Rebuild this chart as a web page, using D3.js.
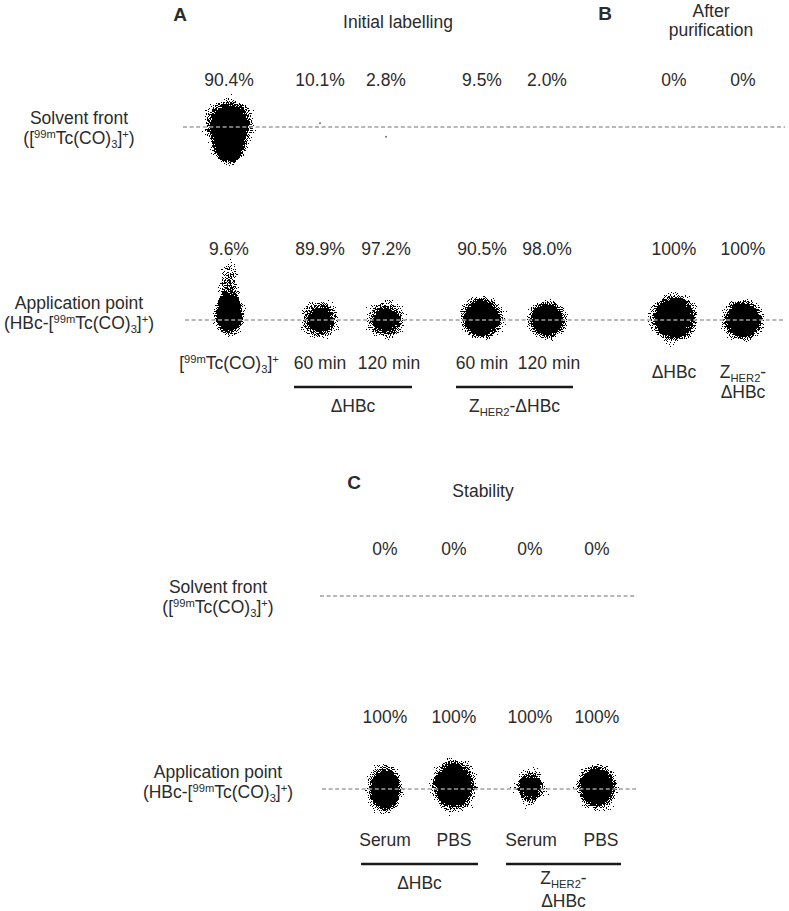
<!DOCTYPE html>
<html>
<head>
<meta charset="utf-8">
<script src="https://cdnjs.cloudflare.com/ajax/libs/d3/7.8.5/d3.min.js"></script>
<style>
  body { margin: 0; background: #fff; }
  svg text { font-family: "Liberation Sans", Arial, sans-serif; fill: #2b2b2b; }
</style>
</head>
<body>
<svg id="chart" width="789" height="911"></svg>
<script>

// ---- datos panel A/B (marcaje inicial y tras purificacion) ----
var lanesA = ["[^{99m}Tc(CO)_{3}]^{+}", "60 min", "120 min", "60 min", "120 min", "ΔHBc", "Z_{HER2}-|ΔHBc"];
var laneOffsetA = [0, 0.91, 1.57, 2.53, 3.18, 4.45, 5.14];   // posicion de carril en la placa
var frontPctA = ["90.4%", "10.1%", "2.8%", "9.5%", "2.0%", "0%", "0%"];
var originPctA = ["9.6%", "89.9%", "97.2%", "90.5%", "98.0%", "100%", "100%"];
var groupsA = [
    { label: "ΔHBc", first: 1, last: 2 },
    { label: "Z_{HER2}-ΔHBc", first: 3, last: 4 }
];
// manchas: carril, Rf del centro, semiancho (placa), semialto (Rf), tipo
var spotsA = [
    { lane: 0, rf: 1.01, hw: 0.30, hh: 0.165, kind: "dense" },
    { lane: 0, rf: 0.89, hw: 0.20, hh: 0.105, kind: "dense" },
    { lane: 0, rf: 0.03, hw: 0.19, hh: 0.14, kind: "dense" },
    { lane: 0, rf: 0.18, hw: 0.13, hh: 0.16, kind: "sparse" },
    { lane: 1, rf: 0.00, hw: 0.25, hh: 0.13, kind: "soft" },
    { lane: 2, rf: 0.00, hw: 0.25, hh: 0.13, kind: "soft" },
    { lane: 3, rf: 0.01, hw: 0.27, hh: 0.14, kind: "dense" },
    { lane: 4, rf: 0.00, hw: 0.24, hh: 0.125, kind: "dense" },
    { lane: 5, rf: 0.01, hw: 0.30, hh: 0.155, kind: "dense" },
    { lane: 6, rf: 0.00, hw: 0.26, hh: 0.135, kind: "dense" }
];
var specksA = [
    { lane: 1, rf: 1.02 },
    { lane: 2, rf: 0.95 }
];

// ---- datos panel C (estabilidad) ----
var lanesC = ["Serum", "PBS", "Serum", "PBS"];
var laneOffsetC = [0, 0.69, 1.45, 2.12];
var frontPctC = ["0%", "0%", "0%", "0%"];
var originPctC = ["100%", "100%", "100%", "100%"];
var groupsC = [
    { label: "ΔHBc", first: 0, last: 1 },
    { label: "Z_{HER2}-|ΔHBc", first: 2, last: 3 }
];
var spotsC = [
    { lane: 0, rf: 0.00, hw: 0.22, hh: 0.155, kind: "dense" },
    { lane: 1, rf: 0.02, hw: 0.28, hh: 0.17, kind: "dense" },
    { lane: 2, rf: 0.01, hw: 0.20, hh: 0.12, kind: "soft" },
    { lane: 3, rf: 0.01, hw: 0.26, hh: 0.145, kind: "dense" }
];

var svg = d3.select("#chart");
var FS = 17.5;

// ---- defs: gradientes de densidad y filtro de granulado ----
var defs = svg.append("defs");
var gradStops = {
    dense: [[0, 1], [0.45, 1], [0.7, 0.48], [0.86, 0.2], [1, 0.03]],
    soft: [[0, 1], [0.28, 0.92], [0.6, 0.45], [0.82, 0.2], [1, 0.03]],
    sparse: [[0, 0.52], [0.5, 0.4], [1, 0.05]]
};
Object.keys(gradStops).forEach(function (k) {
    var g = defs.append("radialGradient").attr("id", "g_" + k);
    gradStops[k].forEach(function (s) {
        g.append("stop").attr("offset", s[0]).attr("stop-color", "#000").attr("stop-opacity", s[1]);
    });
});
var filt = defs.append("filter").attr("id", "speckle")
    .attr("x", 0).attr("y", 0).attr("width", 789).attr("height", 911)
    .attr("filterUnits", "userSpaceOnUse")
    .attr("color-interpolation-filters", "sRGB");
filt.append("feTurbulence").attr("type", "fractalNoise").attr("baseFrequency", 0.95)
    .attr("numOctaves", 1).attr("seed", 7).attr("result", "noise");
filt.append("feColorMatrix").attr("in", "noise").attr("type", "matrix")
    .attr("values", "0 0 0 0 0  0 0 0 0 0  0 0 0 0 0  1 0 0 0 0").attr("result", "n");
filt.append("feComposite").attr("in", "SourceGraphic").attr("in2", "n").attr("operator", "arithmetic")
    .attr("k1", 0).attr("k2", 1.8).attr("k3", -2.5).attr("k4", 0.95).attr("result", "d");
var ct = filt.append("feComponentTransfer").attr("in", "d").attr("result", "t");
ct.append("feFuncR").attr("type", "linear").attr("slope", 0).attr("intercept", 0);
ct.append("feFuncG").attr("type", "linear").attr("slope", 0).attr("intercept", 0);
ct.append("feFuncB").attr("type", "linear").attr("slope", 0).attr("intercept", 0);
ct.append("feFuncA").attr("type", "discrete").attr("tableValues", "0 1");
// mascara: solo donde hay mancha
var mk = filt.append("feComponentTransfer").attr("in", "SourceAlpha").attr("result", "m");
mk.append("feFuncA").attr("type", "discrete")
    .attr("tableValues", "0 " + d3.range(39).map(function () { return 1; }).join(" "));
filt.append("feComposite").attr("in", "t").attr("in2", "m").attr("operator", "in").attr("result", "o");
filt.append("feGaussianBlur").attr("in", "o").attr("stdDeviation", 0.35);

// texto con super/subindices: ^{..} y _{..}
function richText(sel, str, fs) {
    var parts = str.split(/(\^\{[^}]*\}|_\{[^}]*\})/).filter(function (p) { return p !== ""; });
    var cur = 0;
    parts.forEach(function (p) {
        var target = 0, txt = p, small = false;
        if (p.indexOf("^{") === 0) { target = -fs * 0.33; txt = p.slice(2, -1); small = true; }
        else if (p.indexOf("_{") === 0) { target = fs * 0.2; txt = p.slice(2, -1); small = true; }
        var ts = sel.append("tspan").text(txt).attr("dy", target - cur);
        if (small) ts.attr("font-size", fs * 0.64);
        cur = target;
    });
}

function label(g, x, y, str, opts) {
    opts = opts || {};
    var lines = str.split("|");
    lines.forEach(function (ln, i) {
        var t = g.append("text")
            .attr("x", x).attr("y", y + i * (opts.lh || 20))
            .attr("text-anchor", "middle")
            .attr("font-size", opts.fs || FS);
        if (opts.bold) t.attr("font-weight", "bold");
        richText(t, ln, opts.fs || FS);
    });
}

function drawPanel(cfg) {
    var g = svg.append("g");
    var x = d3.scaleLinear().domain([0, d3.max(cfg.offsets)])
        .range(cfg.xRange);
    var pxPerUnit = (cfg.xRange[1] - cfg.xRange[0]) / d3.max(cfg.offsets);
    var y = d3.scaleLinear().domain([0, 1]).range(cfg.yRange);   // Rf
    var laneX = function (i) { return x(cfg.offsets[i]); };

    // manchas
    var spots = g.append("g").attr("filter", "url(#speckle)");
    spots.selectAll("ellipse").data(cfg.spots).enter().append("ellipse")
        .attr("cx", function (d) { return laneX(d.lane); })
        .attr("cy", function (d) { return y(d.rf); })
        .attr("rx", function (d) { return d.hw * pxPerUnit; })
        .attr("ry", function (d) { return y(0) - y(d.hh); })
        .attr("fill", function (d) { return "url(#g_" + d.kind + ")"; });

    g.selectAll("circle.speck").data(cfg.specks || []).enter().append("circle")
        .attr("class", "speck")
        .attr("cx", function (d) { return laneX(d.lane); })
        .attr("cy", function (d) { return y(d.rf); })
        .attr("r", 1)
        .attr("fill", "#777");

    // lineas de frente y origen
    [1, 0].forEach(function (rf, k) {
        g.append("line")
            .attr("x1", laneX(0) - cfg.lineLeft[k]).attr("x2", laneX(cfg.offsets.length - 1) + cfg.lineRight)
            .attr("y1", y(rf)).attr("y2", y(rf))
            .attr("stroke", "#a0a0a0").attr("stroke-width", 1.3)
            .attr("stroke-dasharray", "4,2.6");
    });

    // porcentajes
    cfg.frontPct.forEach(function (p, i) {
        label(g, laneX(i), cfg.frontPctY, p);
    });
    cfg.originPct.forEach(function (p, i) {
        label(g, laneX(i), cfg.originPctY, p);
    });

    // rotulos izquierda
    label(g, cfg.leftX, y(1) - 3, "Solvent front|([^{99m}Tc(CO)_{3}]^{+})", { lh: 20 });
    label(g, cfg.leftX, y(0) - 11, "Application point|(HBc-[^{99m}Tc(CO)_{3}]^{+})", { lh: 20 });

    // carriles
    cfg.lanes.forEach(function (l, i) {
        var ly = cfg.laneY + (cfg.laneShift && cfg.laneShift[i] ? cfg.laneShift[i] : 0);
        label(g, laneX(i) + (cfg.laneDx ? cfg.laneDx[i] : 0), ly, l, { lh: 20 });
    });

    // grupos con barra
    cfg.groups.forEach(function (gr) {
        var x1 = laneX(gr.first) - cfg.barPad, x2 = laneX(gr.last) + cfg.barPad;
        g.append("line")
            .attr("x1", x1).attr("x2", x2)
            .attr("y1", cfg.barY).attr("y2", cfg.barY)
            .attr("stroke", "#1a1a1a").attr("stroke-width", 2.6);
        var two = gr.label.indexOf("|") >= 0;
        label(g, (x1 + x2) / 2, cfg.barY + (two ? 20 : 25), gr.label, { lh: 23 });
    });

    return g;
}

drawPanel({
    offsets: laneOffsetA, xRange: [229, 743], yRange: [320, 127],
    spots: spotsA, specks: specksA,
    lineLeft: [46, 44], lineRight: 42,
    frontPct: frontPctA, originPct: originPctA,
    frontPctY: 86, originPctY: 255,
    leftX: 79,
    lanes: lanesA, laneY: 369, laneShift: [0, 0, 0, 0, 0, 9, 9], laneDx: [0, 0, 3, 0, 2, 0, 0],
    groups: groupsA, barY: 387, barPad: 26
});

drawPanel({
    offsets: laneOffsetC, xRange: [385, 597], yRange: [789, 596],
    spots: spotsC, specks: [],
    lineLeft: [65, 63], lineRight: 39,
    frontPct: frontPctC, originPct: originPctC,
    frontPctY: 555, originPctY: 723,
    leftX: 218,
    lanes: lanesC, laneY: 846, laneDx: [0, 0, 1, 4],
    groups: groupsC, barY: 864, barPad: 24
});

// titulos de panel
label(svg, 180, 21, "A", { fs: 19, bold: true });
label(svg, 398, 28, "Initial labelling");
label(svg, 605, 20, "B", { fs: 19, bold: true });
label(svg, 711, 17, "After|purification", { lh: 19 });
label(svg, 354, 489, "C", { fs: 19, bold: true });
label(svg, 483, 497, "Stability");

</script>
</body>
</html>
